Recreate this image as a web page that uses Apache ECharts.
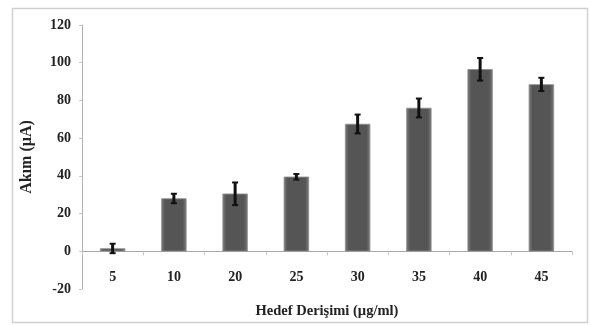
<!DOCTYPE html>
<html><head><meta charset="utf-8">
<script src="https://cdn.jsdelivr.net/npm/echarts@6/dist/echarts.min.js"></script>
<style>html,body{margin:0;padding:0;background:#fff}#c{width:590px;height:325px}</style>
</head><body><div id="c"></div>
<script>
const categories = ['5','10','20','25','30','35','40','45'];
const values = [1.5, 28, 30.5, 39.5, 67.5, 76, 96.5, 88.5];
const errors = [2.5, 2.5, 6, 1.5, 5, 5, 6, 3.5];
const yTicks = {min: -20, max: 120, interval: 20};

const chart = echarts.init(document.getElementById('c'));
const font = '"Liberation Serif", "DejaVu Serif", serif';
chart.setOption({
  animation: false,
  graphic: [{type:'rect', shape:{x:12.5,y:8.5,width:575,height:314}, style:{fill:'none', stroke:'#d0d0d0', lineWidth:1.5}, z:-1}],
  grid: {left: 82, right: 18, top: 25, bottom: 36, outerBoundsMode: 'none', containLabel: false},
  xAxis: {
    type: 'category', data: categories,
    axisLine: {onZero: false, lineStyle: {color: '#a8a8a8', width: 1}},
    axisTick: {show: true, alignWithLabel: false, length: 4, lineStyle: {color: '#c8c8c8'}},
    axisLabel: {margin: 19, color: '#222', fontFamily: font, fontWeight: 'bold', fontSize: 14},
    name: 'Hedef Derişimi (µg/ml)', nameLocation: 'middle', nameGap: 52,
    nameTextStyle: {color: '#222', fontFamily: font, fontWeight: 'bold', fontSize: 14.5}
  },
  yAxis: {
    type: 'value', min: yTicks.min, max: yTicks.max, interval: yTicks.interval,
    splitLine: {show: false},
    axisLine: {show: true, lineStyle: {color: '#b0b0b0'}},
    axisTick: {show: true, length: 3, lineStyle: {color: '#c8c8c8'}},
    axisLabel: {margin: 11, color: '#222', fontFamily: font, fontWeight: 'bold', fontSize: 14},
    name: 'Akım (µA)', nameLocation: 'middle', nameGap: 47,
    nameTextStyle: {color: '#222', fontFamily: font, fontWeight: 'bold', fontSize: 16}
  },
  series: [{
    type: 'bar', data: values, barWidth: 25,
    itemStyle: {
      color: new echarts.graphic.LinearGradient(0,0,1,0,[
        {offset:0,color:'#7a7a7a'},{offset:0.15,color:'#555'},{offset:0.85,color:'#555'},{offset:1,color:'#7a7a7a'}]),
      borderColor: '#8a8a8a', borderWidth: 0.5
    }
  },{
    type: 'custom',
    data: values.map((v,i)=>[i, v-errors[i], v+errors[i]]),
    renderItem: function(params, api){
      const lo = api.coord([api.value(0), api.value(1)]);
      const hi = api.coord([api.value(0), api.value(2)]);
      const x = lo[0];
      return {type:'group', children:[
        {type:'line', shape:{x1:x,y1:lo[1],x2:x,y2:hi[1]}, style:{stroke:'#111', lineWidth:3}},
        {type:'line', shape:{x1:x-3,y1:lo[1],x2:x+3,y2:lo[1]}, style:{stroke:'#111', lineWidth:2}},
        {type:'line', shape:{x1:x-3,y1:hi[1],x2:x+3,y2:hi[1]}, style:{stroke:'#111', lineWidth:2}}
      ]};
    },
    z: 10
  }]
});
// move the x axis up so its line sits at y = 0
const yZero = chart.convertToPixel({yAxisIndex: 0}, 0);
const yMin = chart.convertToPixel({yAxisIndex: 0}, yTicks.min);
chart.setOption({xAxis: {offset: -(yMin - yZero)}});
</script>
</body></html>
